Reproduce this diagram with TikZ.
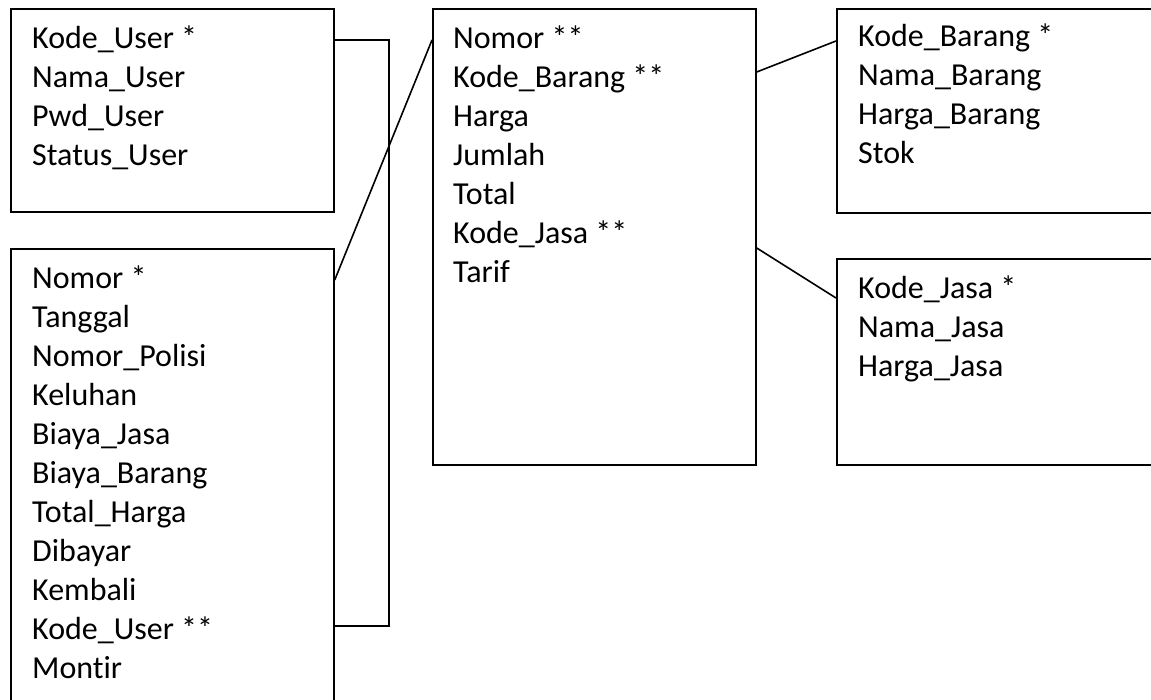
\documentclass[tikz,border=0pt]{standalone}
\usepackage{fontspec}
\setmainfont[Ligatures=NoCommon]{Carlito}
\usetikzlibrary{calc}
\begin{document}
\begin{tikzpicture}[x=1pt,y=-1pt,
  tbl/.style={draw=black,line width=1.7pt,fill=none,inner sep=0pt,anchor=north west},
  fields/.style={anchor=north west,inner sep=0pt,align=left,font=\fontsize{32}{39}\selectfont},
  link/.style={draw=black,line width=1.6pt}]
\clip (0,0) rectangle (1151,700);
\useasboundingbox (0,0) rectangle (1151,700);
% tables
\node[tbl,minimum width=323pt,minimum height=203pt] (b1) at (10,8) {};
\node[tbl,minimum width=323pt,minimum height=480pt] (b2) at (10,248) {};
\node[tbl,minimum width=323pt,minimum height=456pt] (b3) at (432,8) {};
\node[tbl,minimum width=340pt,minimum height=204pt] (b4) at (836,8) {};
\node[tbl,minimum width=340pt,minimum height=206pt] (b5) at (836,258) {};
% fields (strut height 27.3 above first baseline)
\node[fields] (t1) at (32,21.5) {\strut Kode\_User *\\Nama\_User\\Pwd\_User\\Status\_User};
\node[fields] (t2) at (32,261) {\strut Nomor *\\Tanggal\\Nomor\_Polisi\\Keluhan\\Biaya\_Jasa\\Biaya\_Barang\\Total\_Harga\\Dibayar\\Kembali\\Kode\_User **\\Montir};
\node[fields] (t3) at (453,21) {\strut Nomor **\\Kode\_Barang **\\Harga\\Jumlah\\Total\\Kode\_Jasa **\\Tarif};
\node[fields] (t4) at (858,19.5) {\strut Kode\_Barang *\\Nama\_Barang\\Harga\_Barang\\Stok};
\node[fields] (t5) at (858,271) {\strut Kode\_Jasa *\\Nama\_Jasa\\Harga\_Jasa};
% connection points
\coordinate (p1) at ($(b1.north east)+(0,32)$);
\coordinate (p2) at ($(b2.north east)+(0,378)$);
\coordinate (p3) at ($(b2.north east)+(0,32)$);
\coordinate (p4) at ($(b3.north west)+(0,32)$);
\coordinate (p5) at ($(b3.north east)+(0,64)$);
\coordinate (p6) at ($(b4.north west)+(0,33)$);
\coordinate (p7) at ($(b3.north east)+(0,240)$);
\coordinate (p8) at ($(b5.north west)+(0,40)$);
% connectors
\draw[link] (p1) -- ++(54,0) |- (p2);
\draw[link] (p3) -- (p4);
\draw[link] (p5) -- (p6);
\draw[link] (p7) -- (p8);
\end{tikzpicture}
\end{document}
